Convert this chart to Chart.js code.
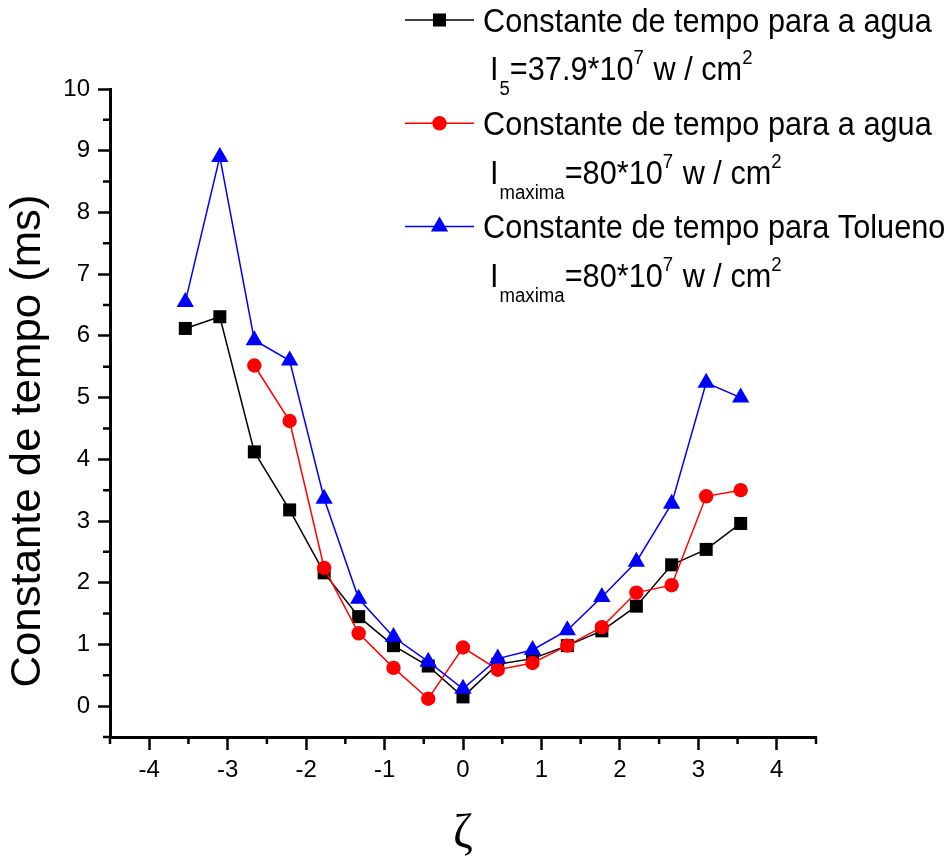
<!DOCTYPE html>
<html>
<head>
<meta charset="utf-8">
<script src="https://cdn.jsdelivr.net/npm/chart.js@4/dist/chart.umd.min.js"></script>
<style>
  html, body { margin: 0; padding: 0; background: #fff; }
  #wrap { width: 950px; height: 863px; }
</style>
</head>
<body>
<div id="wrap"><canvas id="chart" width="950" height="863"></canvas></div>
<script>
// values
const zeta = [-3.54, -3.10, -2.66, -2.21, -1.77, -1.33, -0.886, -0.443, 0, 0.443, 0.886, 1.33, 1.77, 2.21, 2.66, 3.10, 3.54];
const aguaI5 = [6.12, 6.31, 4.12, 3.18, 2.16, 1.45, 0.98, 0.65, 0.15, 0.68, 0.77, 0.98, 1.22, 1.62, 2.29, 2.54, 2.96];
const aguaMax = [null, null, 5.52, 4.62, 2.24, 1.18, 0.62, 0.12, 0.95, 0.59, 0.70, 0.98, 1.28, 1.84, 1.96, 3.40, 3.50];
const tolueno = [6.55, 8.90, 5.93, 5.60, 3.36, 1.74, 1.12, 0.72, 0.28, 0.77, 0.91, 1.23, 1.77, 2.34, 3.28, 5.24, 5.00];

const xTicks = [-4, -3, -2, -1, 0, 1, 2, 3, 4];
const yTicks = [0, 1, 2, 3, 4, 5, 6, 7, 8, 9, 10];
const xMinor = [-4.5, -3.5, -2.5, -1.5, -0.5, 0.5, 1.5, 2.5, 3.5, 4.5];
const yMinor = [-0.5, 0.5, 1.5, 2.5, 3.5, 4.5, 5.5, 6.5, 7.5, 8.5, 9.5];

const legendLabels = ['Constante de tempo para a agua', 'Constante de tempo para a agua', 'Constante de tempo para Tolueno'];
const legendSubs = ['5', 'maxima', 'maxima'];
const legendValues = ['=37.9*10', '=80*10', '=80*10'];
const yTitle = 'Constante de tempo (ms)';
const xTitle = 'ζ';

const FONT = '"Liberation Sans", Arial, sans-serif';
Chart.defaults.font.family = FONT;
Chart.defaults.color = '#000';

function pts(arr) {
  return zeta.map((x, i) => ({ x: x, y: arr[i] }));
}

function drawMarker(ctx, style, color, x, y) {
  ctx.fillStyle = color;
  ctx.beginPath();
  if (style === 'rect') {
    ctx.rect(x - 6.5, y - 6.5, 13, 13);
  } else if (style === 'circle') {
    ctx.arc(x, y, 7.2, 0, Math.PI * 2);
  } else {
    const r = 10;
    ctx.moveTo(x, y - r);
    ctx.lineTo(x + r * 0.866, y + r / 2);
    ctx.lineTo(x - r * 0.866, y + r / 2);
    ctx.closePath();
  }
  ctx.fill();
}

// squeezed text, like the original figure's narrow face
function text(ctx, str, x, y, size, sx) {
  ctx.save();
  ctx.font = size + 'px ' + FONT;
  ctx.translate(x, y);
  ctx.scale(sx, 1);
  ctx.fillText(str, 0, 0);
  const w = ctx.measureText(str).width * sx;
  ctx.restore();
  return x + w;
}

const overlay = {
  id: 'overlay',
  afterDraw(chart) {
    const ctx = chart.ctx;
    const xs = chart.scales.x, ys = chart.scales.y;
    const area = chart.chartArea;
    ctx.save();

    // minor ticks
    ctx.strokeStyle = '#000';
    ctx.lineWidth = 2.5;
    ctx.beginPath();
    xMinor.forEach(v => {
      const px = xs.getPixelForValue(v);
      ctx.moveTo(px, area.bottom);
      ctx.lineTo(px, area.bottom + 7);
    });
    yMinor.forEach(v => {
      const py = ys.getPixelForValue(v);
      ctx.moveTo(area.left, py);
      ctx.lineTo(area.left - 7, py);
    });
    ctx.stroke();

    // axis titles
    ctx.fillStyle = '#000';
    ctx.save();
    ctx.translate(28.5, 441);
    ctx.rotate(-Math.PI / 2);
    ctx.font = '42px ' + FONT;
    const tw = ctx.measureText(yTitle).width;
    ctx.scale(493 / tw, 1);
    ctx.textAlign = 'center';
    ctx.textBaseline = 'middle';
    ctx.fillText(yTitle, 0, 0);
    ctx.restore();

    ctx.font = '48px "Liberation Serif", "DejaVu Serif", serif';
    ctx.textAlign = 'center';
    ctx.textBaseline = 'alphabetic';
    ctx.fillText(xTitle, xs.getPixelForValue(0), 847);

    // legend
    ctx.textAlign = 'left';
    const sets = chart.data.datasets;
    const sx = 0.93;
    legendLabels.forEach((lab, i) => {
      const ds = sets[i];
      const ly = 20 + i * 103.3;
      const base = ly + 11.7;
      ctx.strokeStyle = ds.borderColor;
      ctx.lineWidth = 1.5;
      ctx.beginPath();
      ctx.moveTo(405, ly);
      ctx.lineTo(474, ly);
      ctx.stroke();
      drawMarker(ctx, ds.pointStyle, ds.pointBackgroundColor, 439.5, ly);

      ctx.fillStyle = '#000';
      text(ctx, lab, 483, base, 33, sx);
      const b2 = base + 48.5;
      let x = text(ctx, 'I', 490, b2, 33, sx);
      x = text(ctx, legendSubs[i], x + 1, b2 + 15, 20, sx);
      x = text(ctx, legendValues[i], x, b2, 33, sx);
      x = text(ctx, '7', x, b2 - 16, 20, sx);
      x = text(ctx, ' w / cm', x + 1, b2, 33, sx);
      text(ctx, '2', x, b2 - 16, 20, sx);
    });
    ctx.restore();
  }
};

const ctx = document.getElementById('chart').getContext('2d');
new Chart(ctx, {
  type: 'line',
  data: {
    datasets: [
      { label: 'agua I5', data: pts(aguaI5), borderColor: '#000', pointBackgroundColor: '#000',
        pointBorderColor: '#000', pointStyle: 'rect', pointRadius: 9.2, order: 3 },
      { label: 'agua Imax', data: pts(aguaMax), borderColor: '#ff0000', pointBackgroundColor: '#ff0000',
        pointBorderColor: '#ff0000', pointStyle: 'circle', pointRadius: 7.2, order: 2 },
      { label: 'Tolueno', data: pts(tolueno), borderColor: '#0000ff', pointBackgroundColor: '#0000ff',
        pointBorderColor: '#0000ff', pointStyle: 'triangle', pointRadius: 10, order: 1 }
    ]
  },
  options: {
    responsive: false,
    animation: false,
    events: [],
    clip: false,
    elements: {
      line: { borderWidth: 1.5, tension: 0, fill: false },
      point: { borderWidth: 0 }
    },
    layout: { padding: { top: 89, right: 134, left: 0, bottom: 0 } },
    plugins: { legend: { display: false }, tooltip: { enabled: false } },
    scales: {
      x: {
        type: 'linear', min: -4.5, max: 4.5,
        afterBuildTicks: s => { s.ticks = xTicks.map(v => ({ value: v })); },
        afterFit: s => { s.height = 126; },
        border: { display: true, color: '#000', width: 3 },
        grid: { drawOnChartArea: false, drawTicks: true, tickLength: 13, tickWidth: 2.5, tickColor: '#000' },
        ticks: { font: { size: 24 }, color: '#000', padding: 6, maxRotation: 0 }
      },
      y: {
        min: -0.5, max: 10,
        afterBuildTicks: s => { s.ticks = yTicks.map(v => ({ value: v })); },
        afterFit: s => { s.width = 110; },
        border: { display: true, color: '#000', width: 3 },
        grid: { drawOnChartArea: false, drawTicks: true, tickLength: 12, tickWidth: 2.5, tickColor: '#000' },
        ticks: { font: { size: 24 }, color: '#000', padding: 8 }
      }
    }
  },
  plugins: [overlay]
});
</script>
</body>
</html>
